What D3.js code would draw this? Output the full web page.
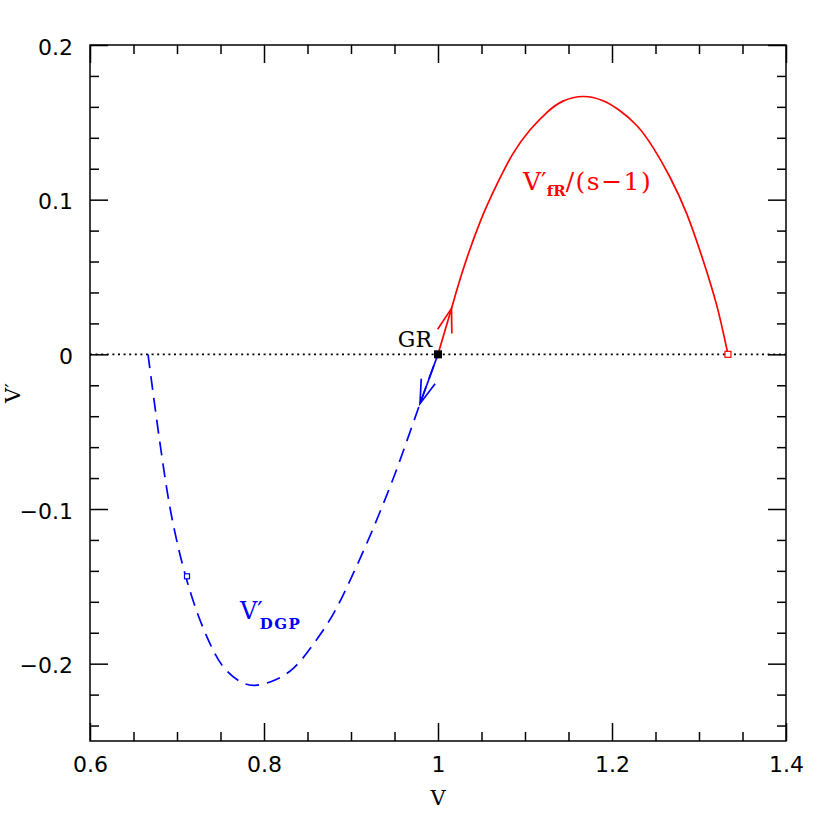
<!DOCTYPE html>
<html>
<head>
<meta charset="utf-8">
<script src="https://cdn.jsdelivr.net/npm/d3@7"></script>
<style>
body { margin: 0; background: #fff; }
text { fill: #000; }
</style>
</head>
<body>
<script>
// Data
var xTicks = [0.6, 0.8, 1.0, 1.2, 1.4],
    xTickLabels = ["0.6", "0.8", "1", "1.2", "1.4"],
    yTicks = [-0.2, -0.1, 0, 0.1, 0.2],
    yTickLabels = ["\u22120.2", "\u22120.1", "0", "0.1", "0.2"];

// V'_fR/(s-1), red solid
var fRV = [1.0, 1.0155, 1.0287, 1.0483, 1.0678, 1.0862, 1.1057, 1.1253, 1.1437, 1.1667,
           1.1897, 1.2092, 1.2287, 1.2471, 1.2667, 1.2862, 1.3046, 1.3207, 1.3333];
var fRdV = [0, 0.0297, 0.0545, 0.0855, 0.1100, 0.1298, 0.1450, 0.1565, 0.1637, 0.1667,
            0.1640, 0.1575, 0.1478, 0.1338, 0.1145, 0.0905, 0.0610, 0.0310, 0];

// V'_DGP, blue dashed
var dgpV = [0.6667, 0.6747, 0.6843, 0.6939, 0.7073, 0.7226, 0.7379, 0.7532, 0.7724, 0.7897,
            0.8107, 0.8337, 0.8567, 0.8797, 0.8989, 0.9180, 0.9372, 0.9563, 0.9793, 1.0];
var dgpdV = [0, -0.0341, -0.0725, -0.1050, -0.1380, -0.1660, -0.1870, -0.2020, -0.2115, -0.2140,
             -0.2110, -0.2030, -0.1875, -0.1678, -0.1462, -0.1224, -0.0965, -0.0685, -0.0319, 0];

// markers
var grPoint = [1.0, 0],
    fREnd = [1.3333, 0],
    dgpMark = [0.7115, -0.1435];

var margin = { top: 45, right: 44, bottom: 89, left: 90 };
var width = 830 - margin.left - margin.right,
    height = 830 - margin.top - margin.bottom;

var svg = d3.select("body").append("svg")
    .attr("width", 830)
    .attr("height", 830)
    .append("g")
    .attr("transform", "translate(" + margin.left + "," + margin.top + ")");

var x = d3.scaleLinear().domain([0.6, 1.4]).range([0, width]);
var y = d3.scaleLinear().domain([-0.25, 0.2]).range([height, 0]);

var xMinor = d3.range(0.65, 1.4, 0.05).map(function (d) { return +d.toFixed(2); })
    .filter(function (d) { return xTicks.every(function (t) { return Math.abs(t - d) > 1e-6; }); });
var yMinor = d3.range(-0.24, 0.2, 0.02).map(function (d) { return +d.toFixed(2); })
    .filter(function (d) { return yTicks.every(function (t) { return Math.abs(t - d) > 1e-6; }); });

var sans = "DejaVu Sans, Liberation Sans, sans-serif",
    serif = "DejaVu Serif, Liberation Serif, serif";

function styleAxis(g) {
    g.select(".domain").remove();
    g.selectAll("line").attr("stroke", "#000").attr("stroke-width", 1.5);
}

// ticks on all four sides, pointing inward
svg.append("g").attr("transform", "translate(0," + height + ")")
    .call(d3.axisBottom(x).tickValues(xTicks).tickSize(-18).tickPadding(15)
        .tickFormat(function (d, i) { return xTickLabels[i]; }))
    .call(styleAxis)
    .selectAll("text")
    .attr("font-family", sans)
    .attr("font-size", 22);
svg.append("g").attr("transform", "translate(0," + height + ")")
    .call(d3.axisBottom(x).tickValues(xMinor).tickSize(-9).tickFormat(""))
    .call(styleAxis);
svg.append("g")
    .call(d3.axisTop(x).tickValues(xTicks).tickSize(-18).tickFormat(""))
    .call(styleAxis);
svg.append("g")
    .call(d3.axisTop(x).tickValues(xMinor).tickSize(-9).tickFormat(""))
    .call(styleAxis);

svg.append("g")
    .call(d3.axisLeft(y).tickValues(yTicks).tickSize(-18).tickPadding(17)
        .tickFormat(function (d, i) { return yTickLabels[i]; }))
    .call(styleAxis)
    .selectAll("text")
    .attr("font-family", sans)
    .attr("font-size", 22)
    .attr("dy", "0.42em");
svg.append("g")
    .call(d3.axisLeft(y).tickValues(yMinor).tickSize(-9).tickFormat(""))
    .call(styleAxis);
svg.append("g").attr("transform", "translate(" + width + ",0)")
    .call(d3.axisRight(y).tickValues(yTicks).tickSize(-18).tickFormat(""))
    .call(styleAxis);
svg.append("g").attr("transform", "translate(" + width + ",0)")
    .call(d3.axisRight(y).tickValues(yMinor).tickSize(-9).tickFormat(""))
    .call(styleAxis);

// frame
svg.append("rect")
    .attr("width", width).attr("height", height)
    .attr("fill", "none").attr("stroke", "#000").attr("stroke-width", 1.5);

// dotted zero line
svg.append("line")
    .attr("x1", 0).attr("x2", width)
    .attr("y1", y(0)).attr("y2", y(0))
    .attr("stroke", "#000").attr("stroke-width", 1.8)
    .attr("stroke-dasharray", "2,3.6");

var line = d3.line()
    .x(function (d) { return x(d[0]); })
    .y(function (d) { return y(d[1]); })
    .curve(d3.curveNatural);

var fRData = fRV.map(function (v, i) { return [v, fRdV[i]]; });
var dgpData = dgpV.map(function (v, i) { return [v, dgpdV[i]]; });

svg.append("path").datum(dgpData)
    .attr("d", line)
    .attr("fill", "none").attr("stroke", "#0000ff").attr("stroke-width", 1.7)
    .attr("stroke-dasharray", "14,8");

svg.append("path").datum(fRData)
    .attr("d", line)
    .attr("fill", "none").attr("stroke", "#ff0000").attr("stroke-width", 1.7);

// open arrow heads pointing along the curves, away from GR
function arrowHead(from, tip, color) {
    var x0 = x(from[0]), y0 = y(from[1]), x1 = x(tip[0]), y1 = y(tip[1]);
    var a = Math.atan2(y0 - y1, x0 - x1), len = 25, spread = 0.3;
    var p = d3.path();
    p.moveTo(x1 + len * Math.cos(a + spread), y1 + len * Math.sin(a + spread));
    p.lineTo(x1, y1);
    p.lineTo(x1 + len * Math.cos(a - spread), y1 + len * Math.sin(a - spread));
    svg.append("path").attr("d", p.toString())
        .attr("fill", "none").attr("stroke", color).attr("stroke-width", 1.7);
}
arrowHead(grPoint, fRData[1], "#ff0000");
arrowHead(grPoint, dgpData[dgpData.length - 2], "#0000ff");
svg.append("line")
    .attr("x1", x(grPoint[0])).attr("y1", y(grPoint[1]))
    .attr("x2", x(dgpData[dgpData.length - 2][0])).attr("y2", y(dgpData[dgpData.length - 2][1]))
    .attr("stroke", "#0000ff").attr("stroke-width", 1.7);

// markers
svg.append("rect")
    .attr("x", x(grPoint[0]) - 4).attr("y", y(grPoint[1]) - 4)
    .attr("width", 8).attr("height", 8).attr("fill", "#000");
svg.append("rect")
    .attr("x", x(fREnd[0]) - 3).attr("y", y(fREnd[1]) - 3)
    .attr("width", 6).attr("height", 6)
    .attr("fill", "#fff").attr("stroke", "#ff0000").attr("stroke-width", 1.2);
svg.append("rect")
    .attr("x", x(dgpMark[0]) - 2.5).attr("y", y(dgpMark[1]) - 2.5)
    .attr("width", 5).attr("height", 5)
    .attr("fill", "#fff").attr("stroke", "#0000ff").attr("stroke-width", 1.2);

// labels
svg.append("text")
    .attr("x", x(grPoint[0]) - 6).attr("y", y(0) - 7)
    .attr("text-anchor", "end")
    .attr("font-family", serif).attr("font-size", 22)
    .text("GR");

var fRLabel = svg.append("text")
    .attr("x", 433).attr("y", 145)
    .attr("font-family", serif).attr("font-size", 25)
    .style("fill", "#ff0000");
fRLabel.append("tspan").text("V\u2032");
fRLabel.append("tspan").attr("font-size", 15).attr("font-weight", "bold")
    .attr("dy", 6).text("fR");
fRLabel.append("tspan").attr("dx", 0).attr("dy", -6)
    .attr("letter-spacing", 1.5).text("/(s\u22121)");

var dgpLabel = svg.append("text")
    .attr("x", 150).attr("y", 574)
    .attr("font-family", serif).attr("font-size", 24)
    .style("fill", "#0000ff");
dgpLabel.append("tspan").text("V\u2032");
dgpLabel.append("tspan").attr("font-size", 15).attr("font-weight", "bold")
    .attr("letter-spacing", 1.5)
    .attr("dx", -3).attr("dy", 10).text("DGP");

// axis titles
svg.append("text")
    .attr("x", width / 2).attr("y", height + 64)
    .attr("text-anchor", "middle")
    .attr("font-family", serif).attr("font-size", 21)
    .text("V");

svg.append("text")
    .attr("transform", "translate(-70," + y(-0.025) + ") rotate(-90)")
    .attr("text-anchor", "middle")
    .attr("font-family", serif).attr("font-size", 21)
    .text("V\u2032");
</script>
</body>
</html>
